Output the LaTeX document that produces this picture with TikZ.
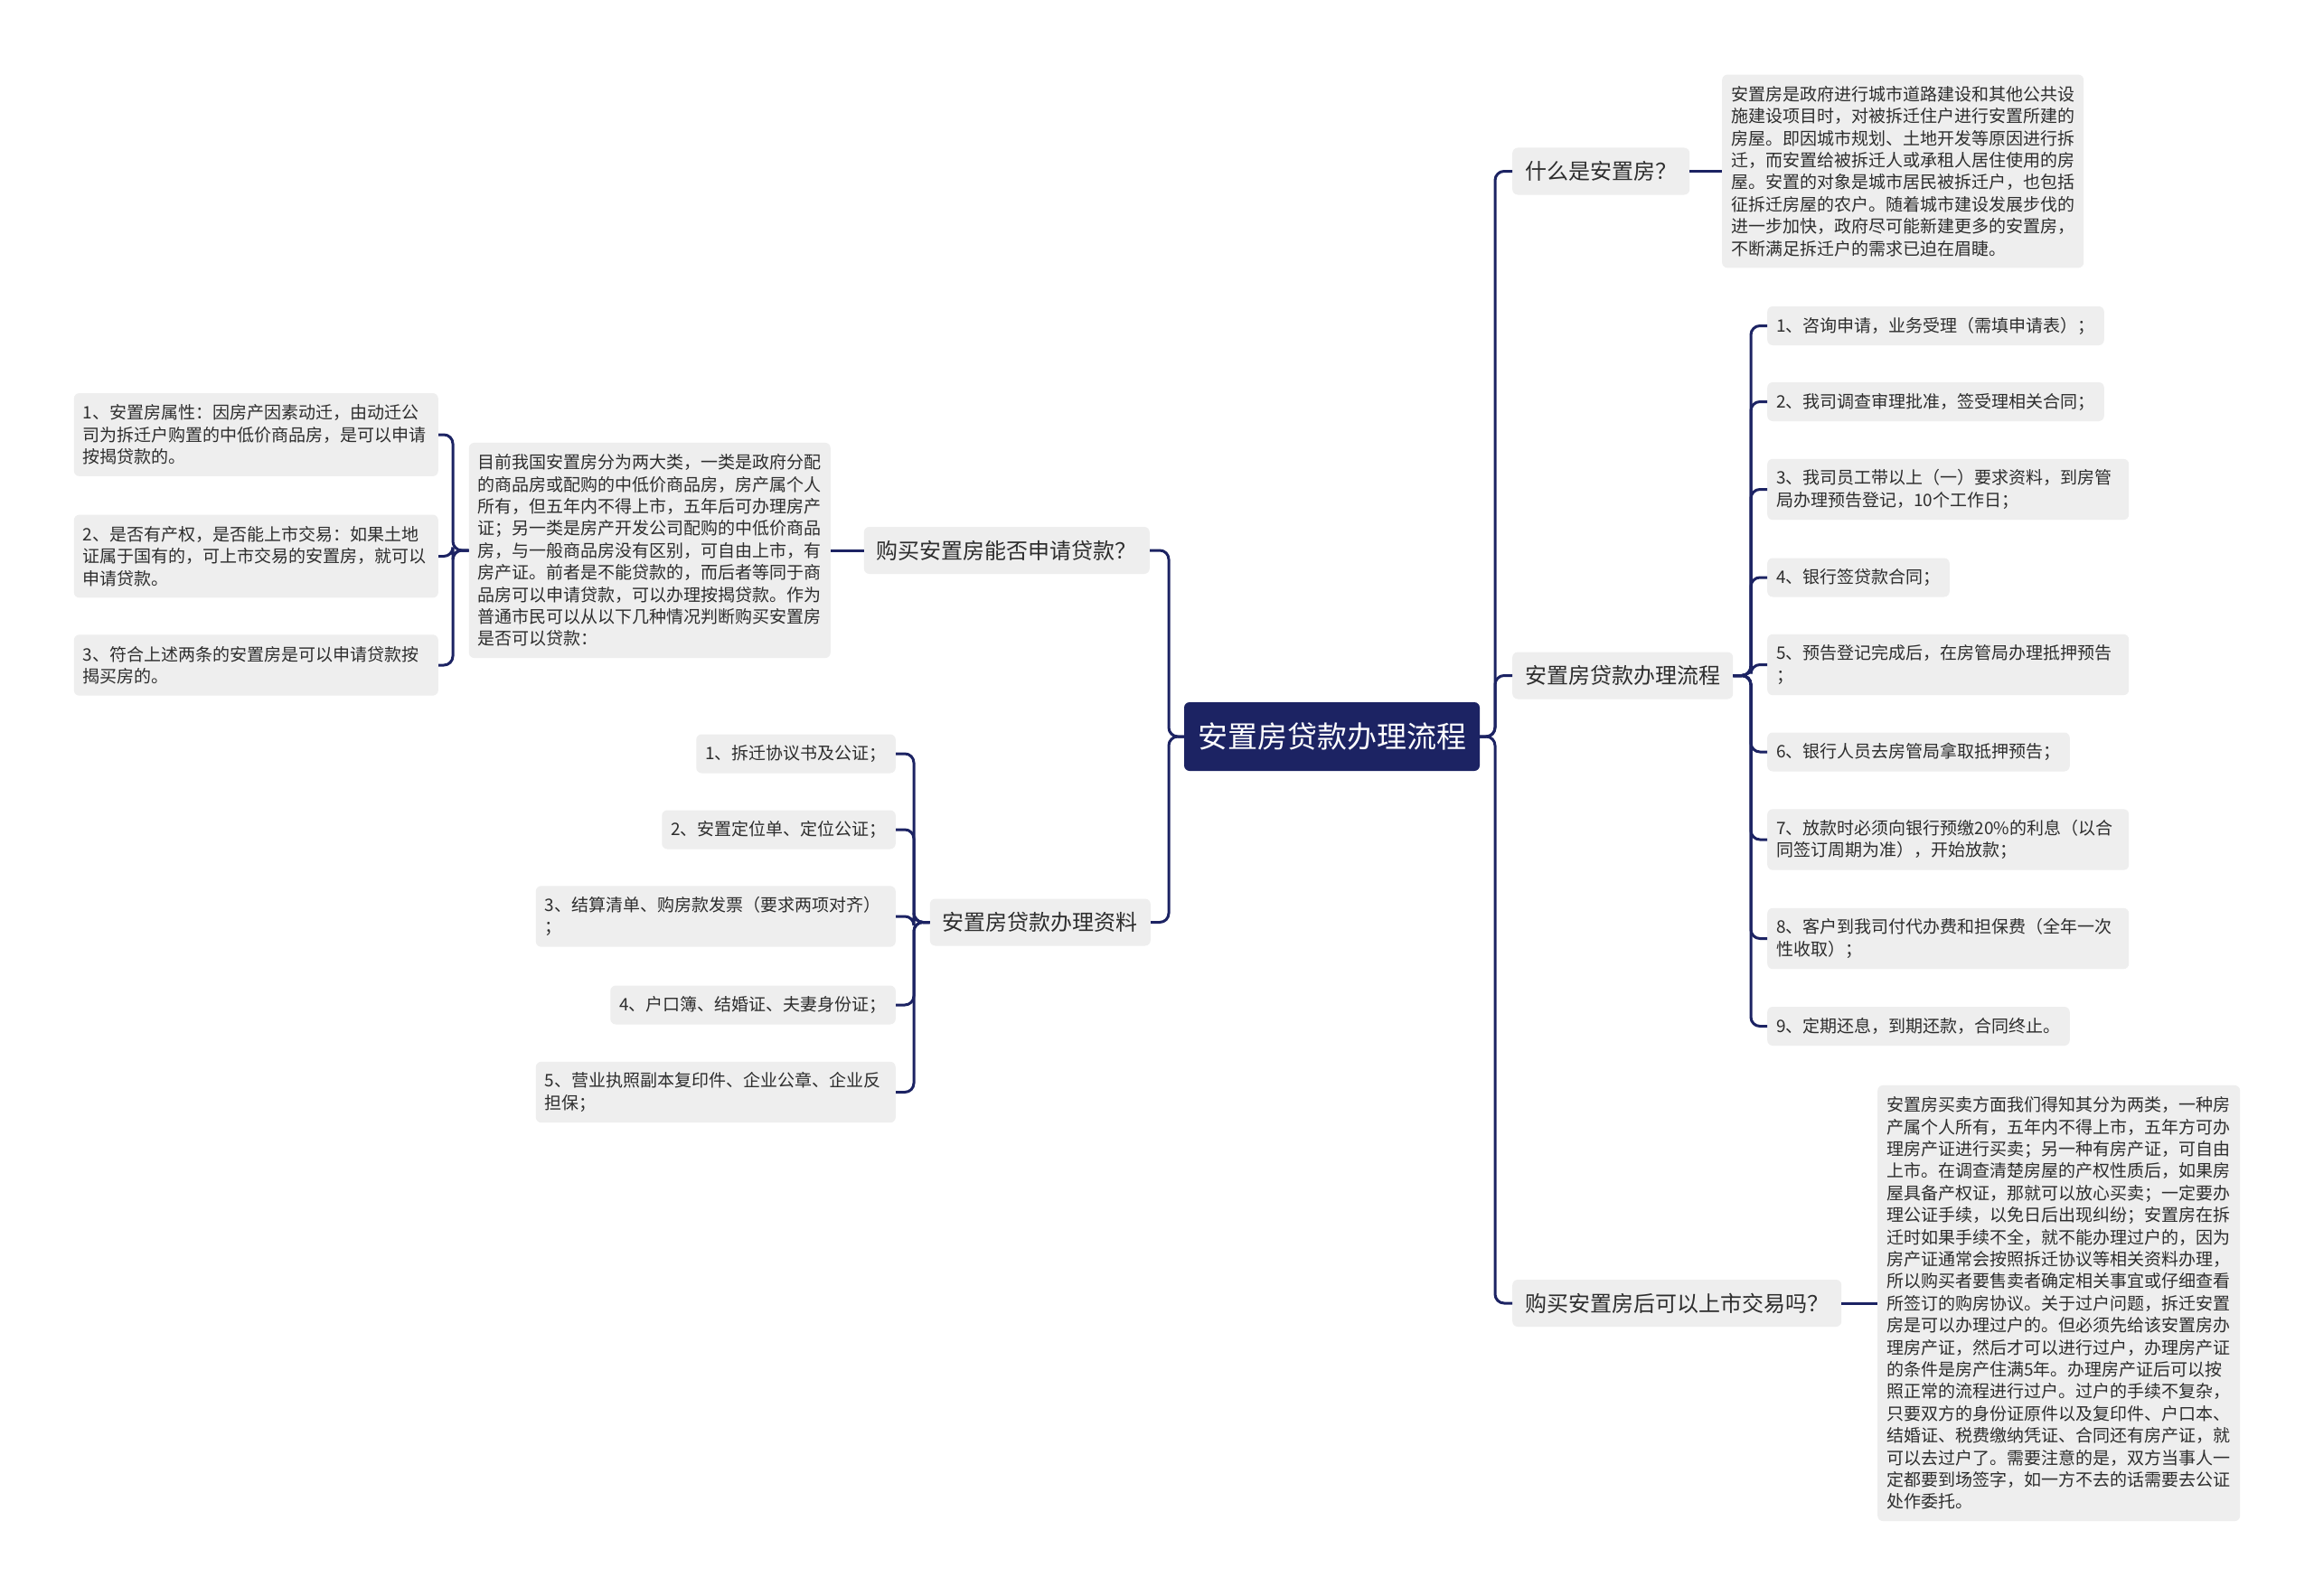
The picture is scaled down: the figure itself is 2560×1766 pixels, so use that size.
\documentclass[tikz,border=0pt]{standalone}
\usepackage{fontspec}
\setmainfont{Noto Sans CJK SC}
\definecolor{navy}{RGB}{28,35,99}
\definecolor{boxgray}{RGB}{238,238,238}
\definecolor{txt}{RGB}{45,45,45}
\begin{document}
\begin{tikzpicture}[x=1pt,y=-1pt,
  conn/.style={draw=navy,line width=3pt,rounded corners=10pt},
  root/.style={fill=navy,text=white,rounded corners=6pt,font=\fontsize{33}{40}\selectfont,inner xsep=15pt,inner ysep=0pt,minimum height=76pt},
  branch/.style={fill=boxgray,text=txt,rounded corners=6pt,font=\fontsize{24}{30}\selectfont,inner xsep=14pt,inner ysep=0pt,minimum height=52pt},
  leaf/.style={fill=boxgray,text=txt,rounded corners=6pt,font=\fontsize{19}{24.4}\selectfont,inner xsep=10pt,inner ysep=0pt,align=left,minimum height=43pt},
  twol/.style={text width=380pt,minimum height=67.4pt},
  threel/.style={text width=383pt,minimum height=91.8pt}]
\fill[white] (0,0) rectangle (2560,1766);
\useasboundingbox (0,0) rectangle (2560,1766);

% root
\node[root] (C) at (1473.5,815) {安置房贷款办理流程};
\coordinate (tR) at (1654,815);
\coordinate (tL) at (1293,815);

% right branches
\node[branch,anchor=west] (R1) at (1673,189.5) {什么是安置房？};
\node[branch,anchor=west] (R2) at (1673,747.5) {安置房贷款办理流程};
\node[branch,anchor=west] (R3) at (1673,1442) {购买安置房后可以上市交易吗？};

% left branches
\node[branch,anchor=east] (L1) at (1272,609) {购买安置房能否申请贷款？};
\node[branch,anchor=east] (L2) at (1273,1020.5) {安置房贷款办理资料};

% details
\node[leaf,anchor=west,text width=380pt,minimum height=213.8pt] (RD1) at (1905,189.5) {安置房是政府进行城市道路建设和其他公共设\\施建设项目时，对被拆迁住户进行安置所建的\\房屋。即因城市规划、土地开发等原因进行拆\\迁，而安置给被拆迁人或承租人居住使用的房\\屋。安置的对象是城市居民被拆迁户，也包括\\征拆迁房屋的农户。随着城市建设发展步伐的\\进一步加快，政府尽可能新建更多的安置房，\\不断满足拆迁户的需求已迫在眉睫。};

\node[leaf,anchor=west,text width=381pt,minimum height=482.2pt] (RD3) at (2077,1442) {安置房买卖方面我们得知其分为两类，一种房\\产属个人所有，五年内不得上市，五年方可办\\理房产证进行买卖；另一种有房产证，可自由\\上市。在调查清楚房屋的产权性质后，如果房\\屋具备产权证，那就可以放心买卖；一定要办\\理公证手续，以免日后出现纠纷；安置房在拆\\迁时如果手续不全，就不能办理过户的，因为\\房产证通常会按照拆迁协议等相关资料办理，\\所以购买者要售卖者确定相关事宜或仔细查看\\所签订的购房协议。关于过户问题，拆迁安置\\房是可以办理过户的。但必须先给该安置房办\\理房产证，然后才可以进行过户，办理房产证\\的条件是房产住满5年。办理房产证后可以按\\照正常的流程进行过户。过户的手续不复杂，\\只要双方的身份证原件以及复印件、户口本、\\结婚证、税费缴纳凭证、合同还有房产证，就\\可以去过户了。需要注意的是，双方当事人一\\定都要到场签字，如一方不去的话需要去公证\\处作委托。};

\node[leaf,anchor=east,text width=380pt,minimum height=238.2pt] (LD1) at (919,609) {目前我国安置房分为两大类，一类是政府分配\\的商品房或配购的中低价商品房，房产属个人\\所有，但五年内不得上市，五年后可办理房产\\证；另一类是房产开发公司配购的中低价商品\\房，与一般商品房没有区别，可自由上市，有\\房产证。前者是不能贷款的，而后者等同于商\\品房可以申请贷款，可以办理按揭贷款。作为\\普通市民可以从以下几种情况判断购买安置房\\是否可以贷款：};

% right items
\coordinate (tR2) at (1937,747.5);
\node[leaf,anchor=west] (I1) at (1955,360.5) {1、咨询申请，业务受理（需填申请表）；};
\node[leaf,anchor=west] (I2) at (1955,444.5) {2、我司调查审理批准，签受理相关合同；};
\node[leaf,anchor=west,twol] (I3) at (1955,541.5) {3、我司员工带以上（一）要求资料，到房管\\局办理预告登记，10个工作日；};
\node[leaf,anchor=west] (I4) at (1955,639) {4、银行签贷款合同；};
\node[leaf,anchor=west,twol] (I5) at (1955,735.5) {5、预告登记完成后，在房管局办理抵押预告\\；};
\node[leaf,anchor=west] (I6) at (1955,832) {6、银行人员去房管局拿取抵押预告；};
\node[leaf,anchor=west,twol] (I7) at (1955,929) {7、放款时必须向银行预缴20\%的利息（以合\\同签订周期为准），开始放款；};
\node[leaf,anchor=west,twol] (I8) at (1955,1038.5) {8、客户到我司付代办费和担保费（全年一次\\性收取）；};
\node[leaf,anchor=west] (I9) at (1955,1135.5) {9、定期还息，到期还款，合同终止。};

% left items under LD1
\coordinate (tLD) at (501,609);
\node[leaf,anchor=east,threel] (P1) at (485,481) {1、安置房属性：因房产因素动迁，由动迁公\\司为拆迁户购置的中低价商品房，是可以申请\\按揭贷款的。};
\node[leaf,anchor=east,threel] (P2) at (485,615.5) {2、是否有产权，是否能上市交易：如果土地\\证属于国有的，可上市交易的安置房，就可以\\申请贷款。};
\node[leaf,anchor=east,text width=383pt,minimum height=67.4pt] (P3) at (485,736) {3、符合上述两条的安置房是可以申请贷款按\\揭买房的。};

% left items under L2
\coordinate (tL2) at (1011,1020.5);
\node[leaf,anchor=east] (M1) at (991,834) {1、拆迁协议书及公证；};
\node[leaf,anchor=east] (M2) at (991,918) {2、安置定位单、定位公证；};
\node[leaf,anchor=east,text width=378pt,minimum height=67.4pt] (M3) at (991,1014) {3、结算清单、购房款发票（要求两项对齐）\\；};
\node[leaf,anchor=east] (M4) at (991,1112) {4、户口簿、结婚证、夫妻身份证；};
\node[leaf,anchor=east,text width=378pt,minimum height=67.4pt] (M5) at (991,1208.5) {5、营业执照副本复印件、企业公章、企业反\\担保；};

% connectors
\draw[conn] (C.east) -- (tR) |- (R1.west);
\draw[conn] (C.east) -- (tR) |- (R2.west);
\draw[conn] (C.east) -- (tR) |- (R3.west);
\draw[conn] (C.west) -- (tL) |- (L1.east);
\draw[conn] (C.west) -- (tL) |- (L2.east);
\draw[conn] (R1.east) -- (RD1.west);
\draw[conn] (R3.east) -- (RD3.west);
\draw[conn] (L1.west) -- (LD1.east);
\foreach \n in {I1,I2,I3,I4,I5,I6,I7,I8,I9}
  \draw[conn] (R2.east) -- (tR2) |- (\n.west);
\foreach \n in {P1,P2,P3}
  \draw[conn] (LD1.west) -- (tLD) |- (\n.east);
\foreach \n in {M1,M2,M3,M4,M5}
  \draw[conn] (L2.west) -- (tL2) |- (\n.east);
\end{tikzpicture}
\end{document}
